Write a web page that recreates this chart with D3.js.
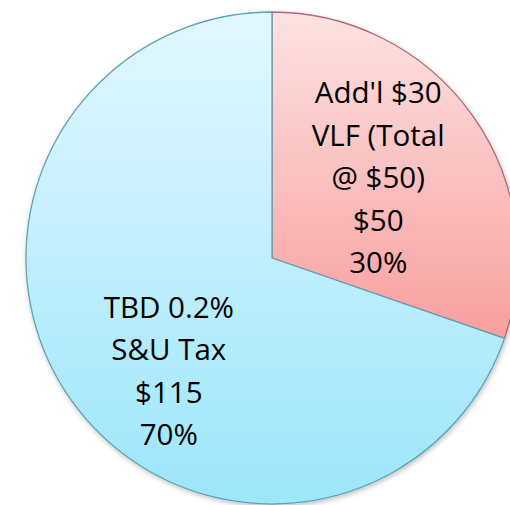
<!DOCTYPE html>
<html>
<head>
<meta charset="utf-8">
<script src="https://cdn.jsdelivr.net/npm/d3@7"></script>
<style>
  html, body { margin: 0; padding: 0; background: #fff; overflow: hidden; }
  svg { display: block; }
</style>
</head>
<body>
<script>
// Pie: two funding sources

const categories = ["Add'l $30 VLF (Total @ $50)", "TBD 0.2% S&U Tax"];
const labelLines = [
  ["Add'l $30", "VLF (Total", "@ $50)"],
  ["TBD 0.2%", "S&U Tax"]
];
const values = [50, 115];
const percents = ["30%", "70%"];

const w = 510, h = 505;
const cx = 272, cy = 258, radius = 246;

const svg = d3.select("body").append("svg")
  .attr("width", w)
  .attr("height", h);

const defs = svg.append("defs");

// gradients top -> bottom of each slice
const grads = [
  { id: "gPink", top: "#fde2e2", bottom: "#f89f9f" },
  { id: "gBlue", top: "#e2f7fe", bottom: "#9de6fb" }
];
grads.forEach(g => {
  const lg = defs.append("linearGradient")
    .attr("id", g.id)
    .attr("x1", 0).attr("y1", 0)
    .attr("x2", 0).attr("y2", 1);
  lg.append("stop").attr("offset", "0%").attr("stop-color", g.top);
  lg.append("stop").attr("offset", "100%").attr("stop-color", g.bottom);
});

const shadow = defs.append("filter").attr("id", "shadow")
  .attr("x", "-10%").attr("y", "-10%").attr("width", "120%").attr("height", "120%");
shadow.append("feDropShadow")
  .attr("dx", 1).attr("dy", 2).attr("stdDeviation", 2.5)
  .attr("flood-color", "#000").attr("flood-opacity", 0.25);

const strokes = ["#b06a72", "#5fa3b6"];
const fills = ["url(#gPink)", "url(#gBlue)"];

const pie = d3.pie().sort(null).value(d => d);
const arcs = pie(values);

const arc = d3.arc().innerRadius(0).outerRadius(radius);

const g = svg.append("g")
  .attr("transform", "translate(" + cx + "," + cy + ")");

g.append("g")
  .attr("filter", "url(#shadow)")
  .selectAll("path")
  .data(arcs)
  .enter()
  .append("path")
  .attr("d", arc)
  .attr("fill", (d, i) => fills[i])
  .attr("stroke", (d, i) => strokes[i])
  .attr("stroke-width", 1.3)
  .attr("stroke-linejoin", "round");

// labels
const labelRadius = 0.53 * radius;
const labelShift = [[0, -4], [3, 38]];
const lineH = 42.5;

arcs.forEach((d, i) => {
  const a = (d.startAngle + d.endAngle) / 2;
  const x = Math.sin(a) * labelRadius + labelShift[i][0];
  const y = -Math.cos(a) * labelRadius + labelShift[i][1];
  const lines = labelLines[i].concat(["$" + values[i], percents[i]]);
  const t = g.append("text")
    .attr("text-anchor", "middle")
    .attr("font-family", "'Open Sans', 'Noto Sans', sans-serif")
    .attr("font-size", 29.5)
    .attr("fill", "#000");
  lines.forEach((l, k) => {
    t.append("tspan")
      .attr("x", x)
      .attr("y", y + (k - (lines.length - 1) / 2) * lineH + 10)
      .text(l);
  });
});
</script>
</body>
</html>
